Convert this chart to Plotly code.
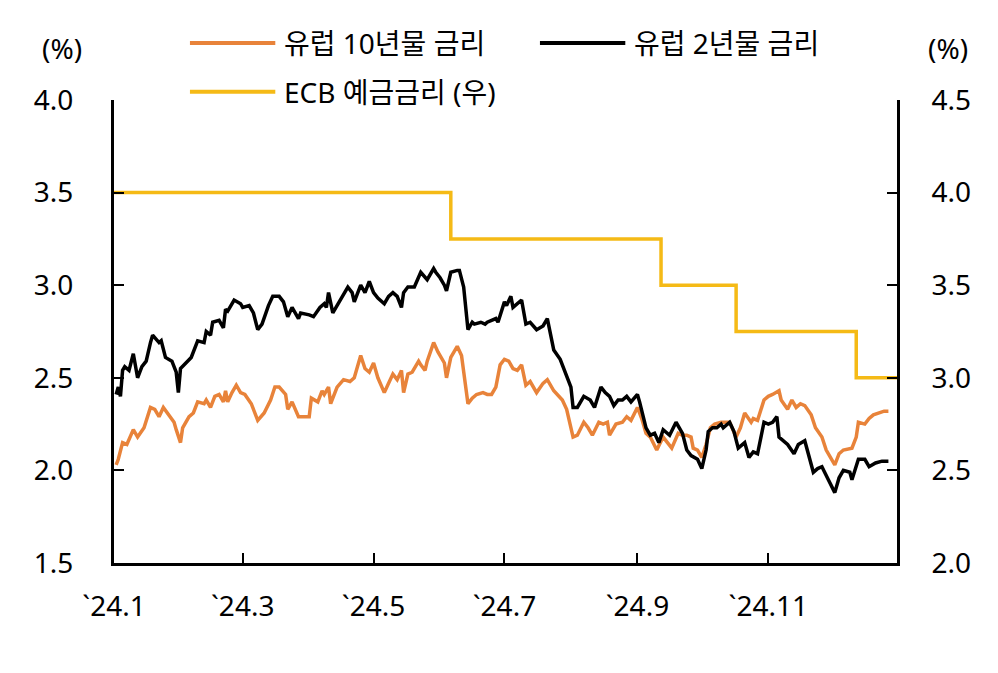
import plotly.graph_objects as go

# ---------------- data ----------------
md_2y = ["01-02","01-03","01-04","01-05","01-06","01-08","01-10","01-12","01-14","01-16","01-18","01-19","01-22","01-23","01-25","01-28","01-30","01-31",
         "02-01","02-04","02-06","02-09","02-12","02-13","02-15","02-16","02-19","02-21","02-22","02-23","02-26","02-29",
         "03-01","03-04","03-06","03-08","03-10","03-13","03-15","03-18","03-20","03-22","03-24","03-27","03-28",
         "04-01","04-03","04-06","04-08","04-09","04-10","04-12","04-14","04-17","04-19","04-21","04-22","04-25","04-27","04-29",
         "05-01","05-03","05-06","05-08","05-10","05-12","05-14","05-15","05-17","05-19","05-20","05-23","05-25","05-26","05-29","05-30",
         "06-01","06-03","06-04","06-06","06-09","06-10","06-12","06-14","06-16","06-17","06-20","06-22","06-23","06-27","06-28","06-30",
         "07-01","07-02","07-04","07-05","07-07","07-09","07-11","07-13","07-16","07-19","07-21","07-24","07-27","07-29",
         "08-01","08-02","08-04","08-07","08-10","08-12","08-15","08-17","08-19","08-21","08-23","08-25","08-27","08-29",
         "09-01","09-02","09-05","09-07","09-09","09-11","09-13","09-16","09-19","09-22","09-24","09-26","09-28","09-29",
         "10-01","10-03","10-04","10-06","10-08","10-10","10-11","10-14","10-16","10-18","10-21","10-23","10-25","10-27","10-30",
         "11-01","11-03","11-05","11-06","11-08","11-10","11-13","11-15","11-18","11-19","11-22","11-24","11-26","11-29",
         "12-02","12-04","12-06","12-09","12-10","12-13","12-16","12-18","12-21","12-24","12-27"]
rate_2y = [2.41,2.45,2.40,2.54,2.56,2.54,2.63,2.50,2.56,2.59,2.69,2.73,2.69,2.70,2.61,2.59,2.53,2.42,
           2.55,2.59,2.61,2.70,2.69,2.75,2.73,2.80,2.81,2.77,2.87,2.86,2.92,2.90,
           2.88,2.89,2.85,2.76,2.79,2.89,2.94,2.94,2.91,2.83,2.88,2.82,2.85,
           2.84,2.83,2.88,2.90,2.88,2.96,2.85,2.89,2.95,2.99,2.96,2.91,3.00,2.96,3.02,
           2.96,2.93,2.90,2.94,2.96,2.94,2.88,2.96,2.99,2.99,2.99,3.07,3.04,3.03,3.09,3.07,
           3.04,3.00,2.97,3.07,3.08,3.08,2.99,2.76,2.80,2.79,2.80,2.79,2.80,2.82,2.80,2.87,
           2.91,2.89,2.94,2.88,2.90,2.92,2.79,2.80,2.76,2.78,2.82,2.65,2.60,2.54,
           2.45,2.34,2.34,2.40,2.38,2.34,2.45,2.42,2.40,2.35,2.38,2.38,2.40,2.37,
           2.41,2.37,2.23,2.19,2.20,2.15,2.22,2.19,2.26,2.20,2.11,2.08,2.07,2.06,
           2.01,2.11,2.21,2.23,2.23,2.25,2.23,2.26,2.21,2.12,2.15,2.07,2.10,2.09,2.26,
           2.25,2.26,2.29,2.18,2.16,2.14,2.09,2.14,2.16,2.12,1.99,2.01,2.02,1.95,
           1.88,1.96,2.00,1.99,1.95,2.06,2.06,2.02,2.04,2.05,2.05]

md_10y = ["01-02","01-03","01-05","01-07","01-10","01-12","01-15","01-18","01-20","01-22","01-24","01-26","01-29","01-30",
          "02-01","02-02","02-05","02-07","02-09","02-12","02-13","02-15","02-17","02-19","02-21","02-22","02-23","02-25","02-27","02-29",
          "03-02","03-05","03-08","03-11","03-14","03-16","03-18","03-21","03-22","03-24","03-27","03-29",
          "04-01","04-02","04-05","04-07","04-08","04-10","04-11","04-14","04-17","04-20","04-22","04-25","04-27","04-29",
          "05-01","05-03","05-06","05-08","05-10","05-12","05-14","05-15","05-17","05-19","05-22","05-23","05-25","05-26","05-29","05-31",
          "06-03","06-04","06-06","06-09","06-11","06-14","06-16","06-18","06-21","06-23","06-25","06-27","06-29",
          "07-01","07-03","07-05","07-07","07-09","07-11","07-13","07-16","07-19","07-21","07-24","07-28","07-30",
          "08-02","08-04","08-07","08-09","08-11","08-14","08-16","08-18","08-19","08-22","08-25","08-27","08-29",
          "09-01","09-03","09-05","09-07","09-10","09-13","09-15","09-17","09-20","09-22","09-24","09-26","09-27","09-29",
          "10-01","10-03","10-05","10-07","10-10","10-12","10-14","10-17","10-19","10-21","10-24","10-25","10-27","10-30",
          "11-01","11-03","11-06","11-07","11-10","11-12","11-14","11-16","11-18","11-21","11-23","11-26","11-28",
          "12-02","12-04","12-06","12-10","12-12","12-13","12-16","12-18","12-20","12-22","12-25","12-27"]
rate_10y = [2.03,2.06,2.15,2.14,2.22,2.18,2.23,2.34,2.33,2.29,2.34,2.31,2.26,2.22,
            2.15,2.23,2.29,2.31,2.37,2.36,2.38,2.34,2.40,2.41,2.37,2.43,2.37,2.42,2.46,2.42,
            2.41,2.36,2.27,2.31,2.38,2.45,2.45,2.41,2.33,2.37,2.29,2.29,
            2.29,2.39,2.37,2.43,2.41,2.45,2.36,2.45,2.49,2.48,2.50,2.62,2.55,2.53,
            2.58,2.50,2.42,2.47,2.52,2.49,2.54,2.42,2.52,2.53,2.59,2.57,2.54,2.59,2.69,2.64,
            2.58,2.50,2.61,2.67,2.62,2.36,2.39,2.41,2.42,2.41,2.41,2.45,2.57,
            2.60,2.59,2.55,2.54,2.57,2.46,2.48,2.42,2.47,2.49,2.43,2.38,2.33,
            2.18,2.19,2.26,2.23,2.19,2.26,2.25,2.26,2.19,2.25,2.26,2.29,2.27,
            2.34,2.28,2.20,2.18,2.11,2.18,2.15,2.12,2.20,2.19,2.19,2.18,2.12,2.11,
            2.07,2.14,2.23,2.25,2.26,2.26,2.26,2.18,2.23,2.31,2.26,2.28,2.27,2.38,
            2.40,2.41,2.43,2.38,2.33,2.38,2.34,2.36,2.35,2.30,2.23,2.18,2.11,
            2.03,2.09,2.11,2.12,2.18,2.26,2.25,2.28,2.30,2.31,2.32,2.32]

ecb_dates = ["2024-01-01", "2024-06-06", "2024-09-12", "2024-10-17", "2024-12-12", "2024-12-31"]
ecb_rate = [4.00, 3.75, 3.50, 3.25, 3.00, 3.00]

x_tickvals = ["2024-01-01", "2024-03-01", "2024-05-01", "2024-07-01", "2024-09-01", "2024-11-01"]
x_ticktext = ["`24.1", "`24.3", "`24.5", "`24.7", "`24.9", "`24.11"]
left_ticks = [1.5, 2.0, 2.5, 3.0, 3.5, 4.0]
right_ticks = [2.0, 2.5, 3.0, 3.5, 4.0, 4.5]

names = ["유럽 10년물 금리", "유럽 2년물 금리", "ECB 예금금리 (우)"]

# ---------------- style ----------------
ORANGE = "#E8833A"
BLACK = "#000000"
YELLOW = "#F5BA16"
FONT = "Noto Sans, Noto Sans CJK KR, sans-serif"
FS = 28

dates_2y = ["2024-" + d for d in md_2y]
dates_10y = ["2024-" + d for d in md_10y]

fig = go.Figure()
fig.add_trace(go.Scatter(x=dates_10y, y=rate_10y, mode="lines", name=names[0],
                         line=dict(color=ORANGE, width=3.5), yaxis="y"))
fig.add_trace(go.Scatter(x=dates_2y, y=rate_2y, mode="lines", name=names[1],
                         line=dict(color=BLACK, width=3.5), yaxis="y"))
fig.add_trace(go.Scatter(x=ecb_dates, y=ecb_rate, mode="lines", name=names[2],
                         line=dict(color=YELLOW, width=3.5, shape="hv"), yaxis="y2"))

axis_common = dict(ticks="inside", ticklen=10, tickwidth=2, tickcolor="black",
                   showline=True, linecolor="black", linewidth=3,
                   showgrid=False, zeroline=False,
                   tickfont=dict(size=FS, family=FONT, color="black"))

fig.update_layout(
    width=998, height=673,
    margin=dict(l=114, r=101, t=100, b=110),
    paper_bgcolor="white", plot_bgcolor="white",
    showlegend=False,
    font=dict(family=FONT, size=FS, color="black"),
    xaxis=dict(range=["2024-01-01", "2024-12-31"], tickvals=x_tickvals, ticktext=x_ticktext,
               ticklabelstandoff=16, **axis_common),
    yaxis=dict(range=[1.5, 4.0], tickvals=left_ticks, ticktext=[f"{v:.1f}" for v in left_ticks],
               ticklabelstandoff=32, **axis_common),
    yaxis2=dict(range=[2.0, 4.5], tickvals=right_ticks, ticktext=[f"{v:.1f}" for v in right_ticks],
                overlaying="y", side="right", ticklabelstandoff=26, **axis_common),
)

# unit labels
fig.add_annotation(text="(%)", x=-0.066, y=1.112, xref="paper", yref="paper",
                   showarrow=False, xanchor="center", yanchor="middle",
                   font=dict(size=FS, family=FONT, color="black"))
fig.add_annotation(text="(%)", x=1.065, y=1.112, xref="paper", yref="paper",
                   showarrow=False, xanchor="center", yanchor="middle",
                   font=dict(size=FS, family=FONT, color="black"))

# legend (drawn as keys + labels above the plot)
legend_items = [
    (names[0], ORANGE, 0.097, 1.123),
    (names[1], BLACK, 0.544, 1.123),
    (names[2], YELLOW, 0.097, 1.018),
]
for label, color, lx, ly in legend_items:
    fig.add_shape(type="line", xref="paper", yref="paper", x0=lx, x1=lx + 0.109, y0=ly, y1=ly,
                  line=dict(color=color, width=4))
    fig.add_annotation(text=label, x=lx + 0.118, y=ly, xref="paper", yref="paper",
                       showarrow=False, xanchor="left", yanchor="middle",
                       font=dict(size=FS, family=FONT, color="black"))

fig.write_html("out.html")
